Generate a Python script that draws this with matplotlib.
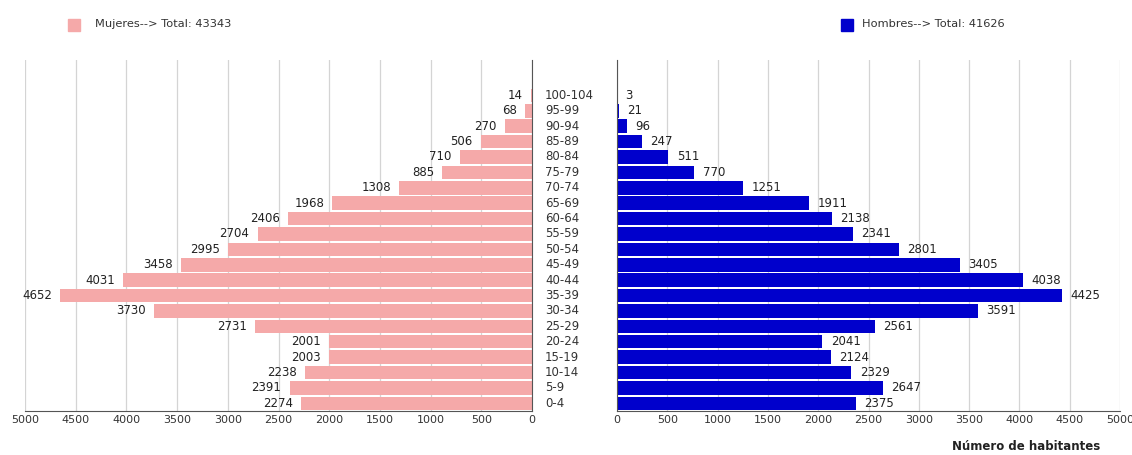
import matplotlib
matplotlib.use("Agg")
import matplotlib.pyplot as plt
from matplotlib.transforms import blended_transform_factory

# grupos de edad, de abajo arriba
edades = ["0-4", "5-9", "10-14", "15-19", "20-24", "25-29", "30-34", "35-39",
          "40-44", "45-49", "50-54", "55-59", "60-64", "65-69", "70-74",
          "75-79", "80-84", "85-89", "90-94", "95-99", "100-104"]
mujeres = [2274, 2391, 2238, 2003, 2001, 2731, 3730, 4652, 4031, 3458, 2995,
           2704, 2406, 1968, 1308, 885, 710, 506, 270, 68, 14]
hombres = [2375, 2647, 2329, 2124, 2041, 2561, 3591, 4425, 4038, 3405, 2801,
           2341, 2138, 1911, 1251, 770, 511, 247, 96, 21, 3]
ticks = list(range(0, 5001, 500))

ROSA = "#f5a9a9"
AZUL = "#0000cc"
W, H = 1132, 455

fig = plt.figure(figsize=(W / 100, H / 100), dpi=100)
ax_l = fig.add_axes([25 / W, (H - 411) / H, 507 / W, 351 / H])
ax_r = fig.add_axes([617 / W, (H - 411) / H, 503 / W, 351 / H])

y = list(range(len(edades)))

ax_l.barh(y, mujeres, height=0.88, color=ROSA, zorder=2)
ax_r.barh(y, hombres, height=0.88, color=AZUL, zorder=2)

for ax in (ax_l, ax_r):
    ax.set_ylim(-0.5, 22.3)
    ax.set_yticks([])
    ax.set_xticks(ticks)
    ax.set_xticklabels([str(t) for t in ticks])
    ax.tick_params(axis="x", length=0, labelsize=8, colors="#333333", pad=3)
    ax.grid(axis="x", color="#d4d4d4", linewidth=0.9, zorder=0)
    ax.spines["top"].set_visible(False)
    ax.spines["bottom"].set_color("#555555")

ax_l.set_xlim(5000, 0)
ax_l.spines["left"].set_visible(False)
ax_l.spines["right"].set_color("#555555")

ax_r.set_xlim(0, 5000)
ax_r.spines["right"].set_visible(False)
ax_r.spines["left"].set_color("#555555")

for i, v in enumerate(mujeres):
    ax_l.annotate(str(v), xy=(v, i), xytext=(-6, 0), textcoords="offset points",
                  ha="right", va="center", fontsize=8.5, color="#222222")
for i, v in enumerate(hombres):
    ax_r.annotate(str(v), xy=(v, i), xytext=(6, 0), textcoords="offset points",
                  ha="left", va="center", fontsize=8.5, color="#222222")

# etiquetas de edad entre los dos paneles
trans = blended_transform_factory(fig.transFigure, ax_l.transData)
for i, e in enumerate(edades):
    ax_l.text(545 / W, i, e, transform=trans, ha="left", va="center",
              fontsize=8.5, color="#333333", clip_on=False)

# leyendas
fig.patches.append(plt.Rectangle((68 / W, (H - 31) / H), 12 / W, 12 / H,
                                 transform=fig.transFigure, color=ROSA))
fig.text(95 / W, (H - 24) / H, "Mujeres--> Total: 43343", fontsize=8.2,
         color="#333333", va="center")
fig.patches.append(plt.Rectangle((841 / W, (H - 31) / H), 12 / W, 12 / H,
                                 transform=fig.transFigure, color=AZUL))
fig.text(862 / W, (H - 24) / H, "Hombres--> Total: 41626", fontsize=8.2,
         color="#333333", va="center")

fig.text(1100 / W, (H - 447) / H, "Número de habitantes", fontsize=8.5,
         fontweight="bold", color="#222222", ha="right", va="center")

fig.savefig("out.png", dpi=100)
